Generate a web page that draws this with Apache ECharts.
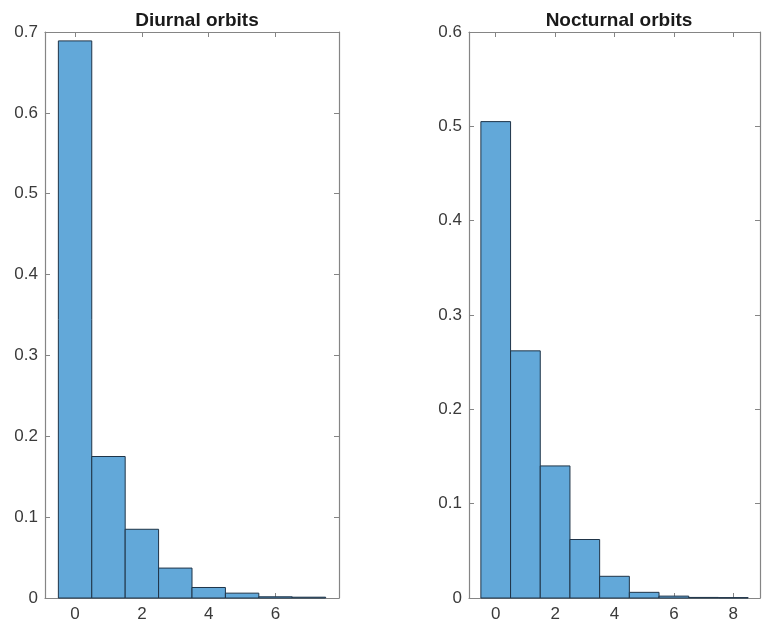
<!DOCTYPE html>
<html>
<head>
<meta charset="utf-8">
<script src="https://cdn.jsdelivr.net/npm/echarts@6/dist/echarts.min.js"></script>
<style>html,body{margin:0;padding:0;background:#fff;}#c{width:763px;height:630px;}</style>
</head>
<body>
<div id="c"></div>
<script>
const diurnalTitle = 'Diurnal orbits';
const nocturnalTitle = 'Nocturnal orbits';
const diurnalBins = [0, 1, 2, 3, 4, 5, 6, 7];
const diurnalValues = [0.689, 0.175, 0.085, 0.037, 0.013, 0.006, 0.0015, 0.001];
const nocturnalBins = [0, 1, 2, 3, 4, 5, 6, 7, 8];
const nocturnalValues = [0.505, 0.262, 0.140, 0.062, 0.023, 0.006, 0.002, 0.0006, 0.0004];
const diurnalXTicks = [0, 2, 4, 6];
const nocturnalXTicks = [0, 2, 4, 6, 8];

const FONT = "'Liberation Sans', Arial, Helvetica, sans-serif";
const AX = '#858585';
const LBL = '#3a3a3a';
const FILL = '#62a8d9';
const EDGE = '#1f3448';

function xAx(gi, min, max, ticks, pos) {
  const bottom = pos === 'bottom';
  return {
    type: 'value', gridIndex: gi, position: pos, min: min, max: max,
    axisLine: { show: true, onZero: false, lineStyle: { color: AX, width: 1.2 } },
    axisTick: { show: true, inside: true, length: 5, customValues: ticks, lineStyle: { color: AX } },
    axisLabel: { show: bottom, customValues: ticks, color: LBL, fontSize: 17, fontFamily: FONT, margin: 8 },
    splitLine: { show: false }
  };
}
function yAx(gi, max, pos) {
  const left = pos === 'left';
  return {
    type: 'value', gridIndex: gi, position: pos, min: 0, max: max, interval: 0.1,
    axisLine: { show: true, onZero: false, lineStyle: { color: AX, width: 1.2 } },
    axisTick: { show: true, inside: true, length: 5, lineStyle: { color: AX } },
    axisLabel: { show: left, color: LBL, fontSize: 17, fontFamily: FONT, margin: 7 },
    splitLine: { show: false }
  };
}
function renderBar(params, api) {
  const x = api.value(0), y = api.value(1);
  const p0 = api.coord([x - 0.5, y]);
  const p1 = api.coord([x + 0.5, 0]);
  return {
    type: 'rect',
    shape: { x: p0[0], y: p0[1], width: p1[0] - p0[0], height: p1[1] - p0[1] },
    style: { fill: FILL, stroke: EDGE, lineWidth: 1 }
  };
}
const chart = echarts.init(document.getElementById('c'));
chart.setOption({
  animation: false,
  backgroundColor: '#fff',
  title: [
    { text: diurnalTitle, left: 192, top: 6, textAlign: 'center',
      textStyle: { fontFamily: FONT, fontSize: 19, fontWeight: 'bold', color: '#1a1a1a' } },
    { text: nocturnalTitle, left: 614, top: 6, textAlign: 'center',
      textStyle: { fontFamily: FONT, fontSize: 19, fontWeight: 'bold', color: '#1a1a1a' } }
  ],
  grid: [
    { left: 45, top: 32, width: 294, height: 566 },
    { left: 469, top: 32, width: 291, height: 566 }
  ],
  xAxis: [
    xAx(0, -0.9, 7.9, diurnalXTicks, 'bottom'),
    xAx(0, -0.9, 7.9, diurnalXTicks, 'top'),
    xAx(1, -0.9, 8.9, nocturnalXTicks, 'bottom'),
    xAx(1, -0.9, 8.9, nocturnalXTicks, 'top')
  ],
  yAxis: [
    yAx(0, 0.7, 'left'),
    yAx(0, 0.7, 'right'),
    yAx(1, 0.6, 'left'),
    yAx(1, 0.6, 'right')
  ],
  series: [
    { type: 'custom', xAxisIndex: 0, yAxisIndex: 0, renderItem: renderBar,
      data: diurnalBins.map((b, i) => [b, diurnalValues[i]]) },
    { type: 'custom', xAxisIndex: 2, yAxisIndex: 2, renderItem: renderBar,
      data: nocturnalBins.map((b, i) => [b, nocturnalValues[i]]) }
  ]
});
</script>
</body>
</html>
